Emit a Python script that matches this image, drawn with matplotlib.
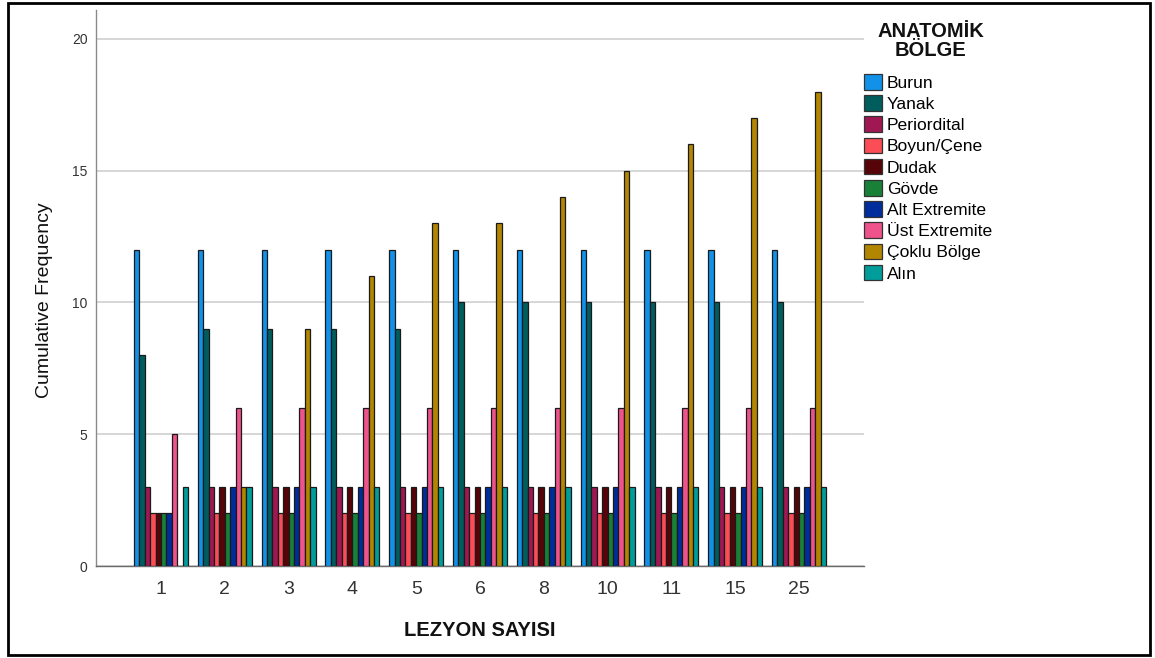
import matplotlib
matplotlib.use("Agg")
import matplotlib.pyplot as plt
import matplotlib.patches as mpatches
import numpy as np

plt.rcParams['font.family'] = ['Liberation Sans', 'DejaVu Sans']

categories = ["1", "2", "3", "4", "5", "6", "8", "10", "11", "15", "25"]
series_names = ["Burun", "Yanak", "Periordital", "Boyun/Çene", "Dudak", "Gövde",
                "Alt Extremite", "Üst Extremite", "Çoklu Bölge", "Alın"]
burun = [12, 12, 12, 12, 12, 12, 12, 12, 12, 12, 12]
yanak = [8, 9, 9, 9, 9, 10, 10, 10, 10, 10, 10]
periordital = [3, 3, 3, 3, 3, 3, 3, 3, 3, 3, 3]
boyun_cene = [2, 2, 2, 2, 2, 2, 2, 2, 2, 2, 2]
dudak = [2, 3, 3, 3, 3, 3, 3, 3, 3, 3, 3]
govde = [2, 2, 2, 2, 2, 2, 2, 2, 2, 2, 2]
alt_extremite = [2, 3, 3, 3, 3, 3, 3, 3, 3, 3, 3]
ust_extremite = [5, 6, 6, 6, 6, 6, 6, 6, 6, 6, 6]
coklu_bolge = [0, 3, 9, 11, 13, 13, 14, 15, 16, 17, 18]
alin = [3, 3, 3, 3, 3, 3, 3, 3, 3, 3, 3]
series_values = [burun, yanak, periordital, boyun_cene, dudak, govde,
                 alt_extremite, ust_extremite, coklu_bolge, alin]
colors = ["#1192e8", "#005d5d", "#9f1853", "#fa4d56", "#570408", "#198038",
          "#002d9c", "#ee538b", "#b28600", "#009d9a"]
y_ticks = [0, 5, 10, 15, 20]

W, H = 1155, 658
fig = plt.figure(figsize=(W / 100, H / 100), dpi=100)
ax = fig.add_axes([96 / W, 1 - 566 / H, (864 - 96) / W, (566 - 10) / H])

x = np.arange(len(categories))
n = len(series_names)
bw = 0.0847
handles = []
for j, (name, vals, c) in enumerate(zip(series_names, series_values, colors)):
    b = ax.bar(x + (j - (n - 1) / 2) * bw, vals, width=bw, color=c,
               edgecolor="#1a1a1a", linewidth=0.9, label=name, zorder=3)
    handles.append(b)

ax.set_xlim(-1.02, len(categories) - 1 + 1.02)
ax.set_ylim(0, 21.1)
ax.set_yticks(y_ticks)
ax.set_xticks(x)
ax.set_xticklabels(categories)
ax.yaxis.grid(True, color="#cfcfcf", linewidth=1.2, zorder=0)
ax.set_axisbelow(True)
for s in ["top", "right"]:
    ax.spines[s].set_visible(False)
ax.spines["left"].set_color("#8a8a8a")
ax.spines["bottom"].set_color("#6a6a6a")
ax.spines["left"].set_linewidth(1.0)
ax.spines["bottom"].set_linewidth(1.0)
ax.tick_params(axis="y", length=0, pad=6, labelsize=10, labelcolor="#333333")
ax.tick_params(axis="x", length=0, pad=11, labelsize=14, labelcolor="#333333")

ax.set_xlabel("LEZYON SAYISI", fontsize=14.5, fontweight="bold", color="#111111")
ax.xaxis.set_label_coords(0.5, (566 - 640) / 556, transform=ax.transAxes)
ax.xaxis.label.set_va("bottom")
ax.set_ylabel("Cumulative Frequency", fontsize=14, color="#111111")
ax.yaxis.set_label_coords((53 - 96) / 768, (566 - 300) / 556)

fig.text(931 / W, 1 - 41 / H, "ANATOMİK\nBÖLGE", ha="center", va="center",
         multialignment="center", fontsize=14.5, fontweight="bold",
         linespacing=1.0, color="#111111")

leg = fig.legend(handles=handles, labels=series_names, loc="upper left",
                 bbox_to_anchor=(864 / W, 1 - 74 / H), frameon=False,
                 fontsize=12.6, handlelength=1.02, handleheight=1.0,
                 handletextpad=0.3, labelspacing=0.25, borderpad=0.0,
                 borderaxespad=0.0)
for h in leg.legend_handles:
    h.set_edgecolor("#333333")

fig.patches.append(mpatches.Rectangle((7.5 / W, 3.5 / H), (1150 - 7.5) / W,
                                      (655.5 - 3.5) / H, transform=fig.transFigure,
                                      fill=False, edgecolor="black", linewidth=2))

fig.savefig("out.png", dpi=100)
